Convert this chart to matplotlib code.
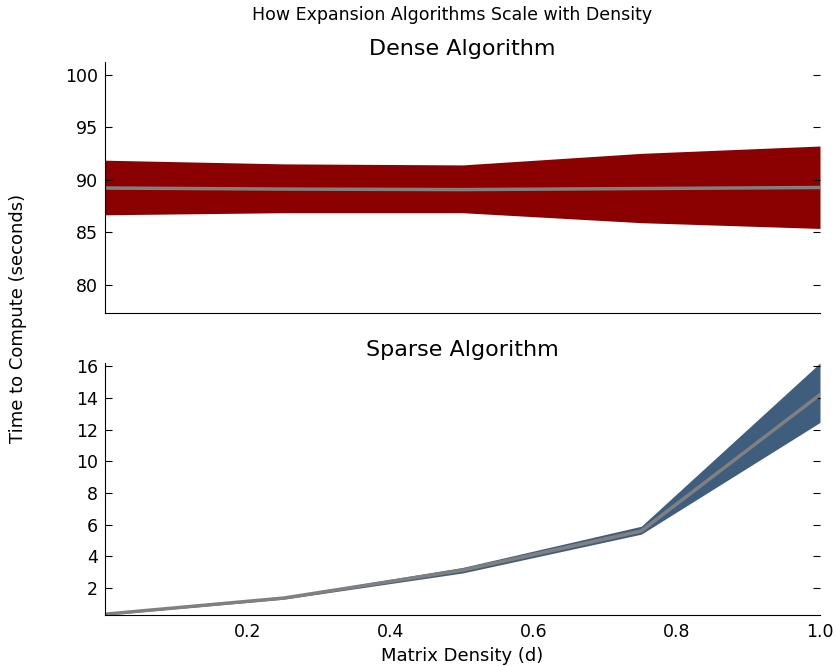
import matplotlib
matplotlib.use("Agg")
import matplotlib.pyplot as plt

density = [0.0, 0.25, 0.5, 0.75, 1.0]
dense_mean = [89.2, 89.1, 89.05, 89.15, 89.25]
dense_low = [86.65, 86.85, 86.85, 85.9, 85.35]
dense_high = [91.85, 91.5, 91.4, 92.5, 93.2]
sparse_mean = [0.35, 1.37, 3.13, 5.6, 14.2]
sparse_low = [0.3, 1.3, 2.95, 5.4, 12.45]
sparse_high = [0.4, 1.45, 3.3, 5.9, 16.2]

xticks = [0.2, 0.4, 0.6, 0.8, 1.0]
dense_yticks = [80, 85, 90, 95, 100]
sparse_yticks = [2, 4, 6, 8, 10, 12, 14, 16]

fig = plt.figure(figsize=(8.37, 6.66), dpi=100)
W, H = 837, 666
def rect(l, t, r, b):
    return [l / W, 1 - b / H, (r - l) / W, (b - t) / H]

ax1 = fig.add_axes(rect(105, 62, 820, 313))
ax2 = fig.add_axes(rect(105, 363, 820, 615))

ax1.fill_between(density, dense_low, dense_high, color="#8b0000", linewidth=0)
ax1.plot(density, dense_mean, color="#808080", linewidth=2.5)
ax2.fill_between(density, sparse_low, sparse_high, color="#3f5e7e", linewidth=0)
ax2.plot(density, sparse_mean, color="#808080", linewidth=2.5)

ax1.set_xlim(0, 1.0)
ax2.set_xlim(0, 1.0)
ax1.set_ylim(77.3, 101.2)
ax2.set_ylim(0.3, 16.2)

for ax, yt in ((ax1, dense_yticks), (ax2, sparse_yticks)):
    ax.spines["top"].set_visible(False)
    ax.spines["right"].set_visible(False)
    ax.set_yticks(yt)
    ax.set_xticks(xticks)
    ax.tick_params(axis="y", direction="in", left=True, right=True, length=5,
                   labelsize=12.5, pad=5)
    ax.tick_params(axis="x", direction="in", bottom=False, top=False,
                   labelsize=12.5, pad=6)

ax1.set_xticklabels([])
ax2.set_xticklabels([f"{v:.1f}" for v in xticks])

ax1.set_title("Dense Algorithm", fontsize=16, pad=5)
ax2.set_title("Sparse Algorithm", fontsize=16, pad=5)
fig.text(452 / W, 1 - 15 / H, "How Expansion Algorithms Scale with Density",
         fontsize=12.5, ha="center", va="center")
fig.text(462 / W, 1 - 656 / H, "Matrix Density (d)", fontsize=13,
         ha="center", va="center")
fig.text(18 / W, 1 - 318 / H, "Time to Compute (seconds)", rotation=90,
         fontsize=13, ha="center", va="center")

fig.savefig("out.png", dpi=100)
